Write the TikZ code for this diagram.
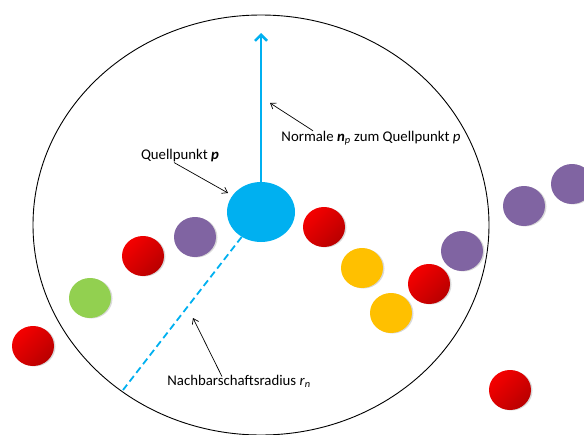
\documentclass[tikz,border=0pt]{standalone}
\usepackage{fontspec}
\setmainfont{Carlito}
\usetikzlibrary{shapes.geometric,arrows.meta,shadows}

\definecolor{pblue}{RGB}{0,176,240}
\definecolor{ballred}{RGB}{245,0,0}
\definecolor{darkred}{RGB}{185,0,0}
\definecolor{ballgreen}{RGB}{146,208,80}
\definecolor{ballpurple}{RGB}{128,100,162}
\definecolor{ballyellow}{RGB}{255,192,0}

\begin{document}
\begin{tikzpicture}[x=1pt,y=-1pt]
  % some styles
  \tikzset{
    ball/.style={
      ellipse,
      minimum width=42pt,
      minimum height=40pt,
      inner sep=0pt,
      outer sep=0pt,
      drop shadow={shadow xshift=1.5pt,shadow yshift=-0.5pt,opacity=0.3}
    },
    redball/.style={ball,shading=axis,top color=ballred,middle color=ballred,
      bottom color=darkred,shading angle=45},
    greenball/.style={ball,fill=ballgreen},
    purpleball/.style={ball,fill=ballpurple},
    yellowball/.style={ball,fill=ballyellow},
    lbl/.style={font=\fontsize{14.8}{17}\selectfont,inner sep=0pt},
    note/.style={-{Straight Barb[length=5pt,width=7pt]},line width=0.7pt}
  }

\useasboundingbox (0,0) rectangle (584,434);

% neighbourhood
\node[draw,ellipse,line width=0.9pt,minimum width=456pt,minimum height=420pt] (hood) at (261,225) {};

% points
\foreach \n/\x/\y/\s in {r1/33/346/redball, g1/90/298/greenball, r2/143/256/redball,
    v1/195/237/purpleball, r3/324/227/redball, y1/362/268/yellowball,
    y2/391/313/yellowball, r4/429/284/redball, v2/462/251/purpleball,
    v3/524/206/purpleball, v4/572/184/purpleball, r5/510/390/redball}
    \node[\s] (\n) at (\x,\y) {};

% source point with normal and radius
\node[ellipse,fill=pblue,minimum width=68pt,minimum height=60pt,inner sep=0pt] (p) at (261,212) {};
\coordinate (ntip) at (261,33);
\coordinate (rend) at (123,390);
\draw[pblue,line width=2.5pt,-{Straight Barb[length=6pt,width=12pt]}] (p.north) -- (ntip);
\draw[pblue,line width=1.8pt,dash pattern=on 7pt off 4pt] (p) -- (rend);

% labels
\node[lbl] (lp) at (180,156) {Quellpunkt \textbf{\textit{p}}};
\node[lbl] (ln) at (371,138) {Normale \textbf{\textit{n}}\textsubscript{\textit{p}} zum Quellpunkt \textit{p}};
\node[lbl] (lr) at (239,381) {Nachbarschaftsradius \textit{r}\textsubscript{\textit{n}}};

\coordinate (ap) at (228,193);
\coordinate (an) at (270,103);
\coordinate (ar) at (193,318);
\draw[note] ([xshift=-6pt]lp.south) -- (ap);
\draw[note] ([xshift=-58pt]ln.north) -- (an);
\draw[note] ([xshift=-17pt,yshift=-2pt]lr.north) -- (ar);

\end{tikzpicture}
\end{document}
